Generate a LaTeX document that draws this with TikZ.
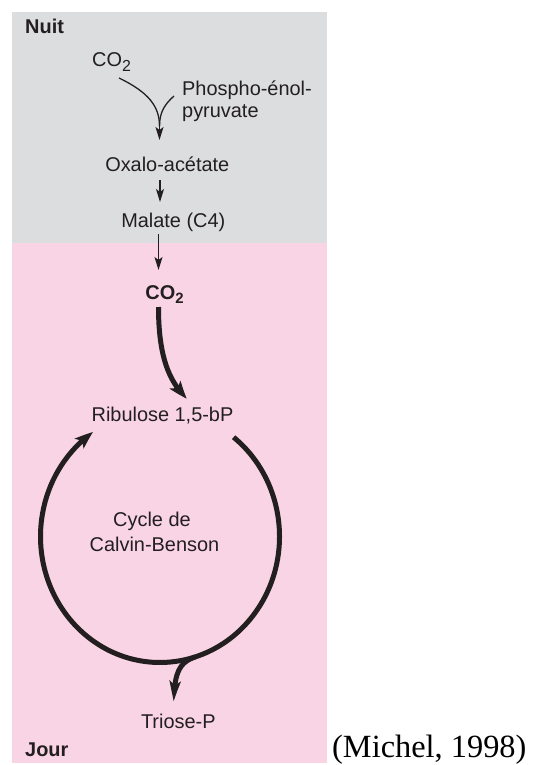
\documentclass[tikz,border=0pt]{standalone}
\usepackage{fontspec}
\setmainfont{Liberation Sans}
\newfontfamily\reffont{Liberation Serif}
\usetikzlibrary{arrows.meta,bending,calc}
\definecolor{nightgray}{RGB}{220,221,223}
\definecolor{daypink}{RGB}{249,212,228}
\definecolor{ink}{RGB}{35,31,32}
\newcommand{\mysubtwo}[2]{\raisebox{-#2bp}{\fontsize{#1}{#1}\selectfont 2}}
\begin{document}
\begin{tikzpicture}[x=1bp,y=-1bp,
  lbl/.style={font=\fontsize{20}{22}\selectfont, text=ink, inner sep=0pt, anchor=base},
  lblb/.style={lbl, font=\fontsize{20}{22}\selectfont\bfseries},
  thinarrow/.style={draw=ink, line width=1.3bp, -{Stealth[length=13bp,width=8bp,inset=3bp]}},
  thinline/.style={draw=ink, line width=1.3bp},
  thickarrow/.style={draw=ink, line width=5bp, -{Stealth[length=18bp,width=13bp,inset=4bp,bend]}},
]
\useasboundingbox (0,0) rectangle (534,765);
\fill[nightgray] (12,12) rectangle (327,243);
\fill[daypink] (12,243) rectangle (327,763);

% texts
\node[lblb, anchor=base west] (nuit) at (25,34) {Nuit};
\node[lbl, anchor=base west] (co2a) at (92,66.5) {CO\mysubtwo{16}{5}};
\node[lbl, anchor=base west] (pep1) at (182,95) {Phospho-énol-};
\node[lbl, anchor=base west] (pep2) at (182,117) {pyruvate};
\node[lbl] (oxalo) at (167.3,171) {Oxalo-acétate};
\node[lbl] (malate) at (173.3,227) {Malate (C4)};
\node[lblb] (co2b) at (164.5,299) {CO\mysubtwo{15}{4}};
\node[lbl] (ribu) at (162.5,421) {Ribulose 1,5-bP};
\node[lbl] (cyc1) at (152,526) {Cycle de};
\node[lbl] (cyc2) at (154.5,551) {Calvin-Benson};
\node[lbl] (triose) at (178.3,728) {Triose-P};
\node[lblb, anchor=base west] (jour) at (25,756.5) {Jour};
\node[font=\reffont\fontsize{32.5}{38}\selectfont, anchor=base west, inner sep=0pt, text=black] (ref) at (332,757) {(Michel, 1998)};

% night connectors
\coordinate (c1s) at (119,78);
\coordinate (c2s) at (174,96);
\coordinate (join) at (159.5,126);
\coordinate (tipA) at (159.5,140);
\draw[thinline] (c1s) .. controls (148,92) and (159.5,106) .. (join);
\draw[thinline] (c2s) .. controls (165,104) and (159.5,112) .. (join);
\draw[thinarrow] (join) -- (tipA);
\coordinate (oxB) at (160,180);
\coordinate (maT) at (160,202);
\draw[thinarrow] (oxB) -- (maT);
\coordinate (maB) at (158.5,234);
\coordinate (coT) at (158.5,270);
\draw[thinarrow] (maB) -- (coT);

% day connectors
\coordinate (coB) at (158.5,307);
\coordinate (riT) at (187,398.5);
\draw[thickarrow] (coB) .. controls (158.5,352) and (167,380) .. (riT);

\coordinate (cc) at (160,536.5);
\draw[thickarrow] ($(cc)+(-52:119.5 and 126)$) arc[start angle=-52, end angle=236, x radius=119.5, y radius=126];
\coordinate (br) at (195,657);
\coordinate (trT) at (174,702);
\draw[draw=ink, line width=5bp, -{Stealth[length=22bp,width=11bp,inset=5bp,bend]}] (br) .. controls (180,662) and (174,672) .. (trT);
\end{tikzpicture}
\end{document}
